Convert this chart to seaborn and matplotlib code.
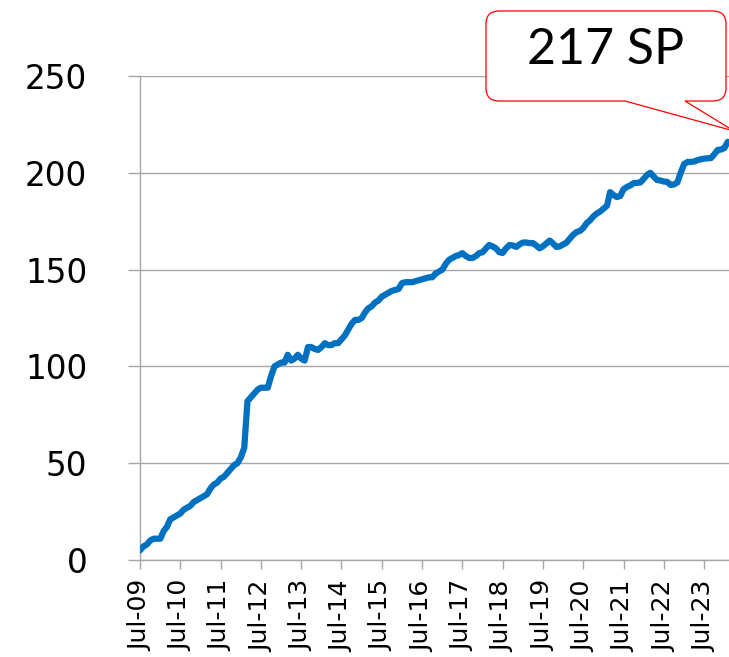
import numpy as np
import pandas as pd
import matplotlib
matplotlib.use("Agg")
import matplotlib.pyplot as plt
import matplotlib.dates as mdates
from matplotlib.path import Path
from matplotlib.patches import PathPatch
from matplotlib.transforms import Affine2D
import seaborn as sns

# ---- data ----
start_month = "2009-07-01"
sp_values = [
    5, 7, 8, 10, 11, 11, 11, 15, 17, 21, 22, 23,
    24, 26, 27, 28, 30, 31, 32, 33, 34, 37, 39, 40,
    42, 43, 45, 47, 49, 50, 53, 58, 82, 84, 86, 88,
    89, 89, 89, 95, 100, 101, 102, 102, 106, 103, 104, 106,
    104, 103, 110, 110, 109, 108.5, 110, 112, 111, 111, 112, 112,
    114, 116, 119, 122, 124, 124, 125, 128, 130, 131, 133, 134,
    136, 137, 138, 139, 139.5, 140, 143, 143.5, 143.5, 143.5, 144, 144.5,
    145, 145.5, 146, 146, 148, 149, 150, 153, 155, 156, 157, 157.5,
    158.5, 157, 156, 156, 157, 158.5, 159, 161, 162.7, 162, 161, 159,
    158.6, 161, 162.7, 162.5, 161.7, 163, 164, 164, 163.7, 163.7, 162.5, 161,
    162, 163.5, 165, 163.5, 161.7, 162, 163, 164, 166, 168, 169.4, 170,
    171.5, 174, 175.5, 177.5, 179, 180, 181.5, 183, 190, 188.5, 187.5, 188,
    191.5, 192.7, 193.5, 194.7, 194.8, 195, 197, 199, 200, 198, 196.3, 196,
    195.5, 195.3, 193.7, 194, 195, 200, 204.5, 205.6, 205.6, 205.8, 206.5, 207,
    207.3, 207.5, 207.6, 209.5, 211.8, 212, 212.8, 216,
]
y_ticks = [0, 50, 100, 150, 200, 250]
callout_text = "217 SP"

dates = pd.date_range(start_month, periods=len(sp_values), freq="MS")
df = pd.DataFrame({"date": dates, "sp": sp_values})

# ---- figure ----
sns.set_style("white")
plt.rcParams["font.family"] = ["DejaVu Sans"]
plt.rcParams["text.color"] = "black"
plt.rcParams["xtick.labelcolor"] = "black"
plt.rcParams["ytick.labelcolor"] = "black"

W, H, DPI = 729, 657, 100
fig = plt.figure(figsize=(W / DPI, H / DPI), dpi=DPI)
ax = fig.add_axes([140 / W, 1 - 560 / H, (729 - 140) / W, (560 - 76) / H])

grid_c = "#A6A6A6"
sns.lineplot(data=df, x="date", y="sp", ax=ax, color="#0070C0",
             linewidth=4.5, zorder=3)

ax.set_ylim(0, 250)
ax.set_yticks(y_ticks)
ax.set_xlim(pd.Timestamp("2009-07-01"), pd.Timestamp("2024-02-12"))
ax.xaxis.set_major_locator(mdates.MonthLocator(bymonth=7))
ax.xaxis.set_major_formatter(mdates.DateFormatter("%b-%y"))

ax.grid(axis="y", color=grid_c, linewidth=1.0, zorder=1)
ax.grid(axis="x", visible=False)
for side in ["top", "right"]:
    ax.spines[side].set_visible(False)
for side in ["left", "bottom"]:
    ax.spines[side].set_color(grid_c)
    ax.spines[side].set_linewidth(1.0)

ax.tick_params(axis="y", which="major", length=9, width=1.0, color=grid_c,
               labelsize=23.5, pad=29, left=True, labelcolor="black")
ax.tick_params(axis="x", which="major", length=6.5, width=1.0, color=grid_c,
               labelsize=18, pad=8, bottom=True, labelrotation=90,
               labelcolor="black")
for lbl in ax.get_xticklabels():
    lbl.set_ha("center")
    lbl.set_va("top")
ax.set_xlabel("")
ax.set_ylabel("")
legend = ax.get_legend()
if legend:
    legend.remove()

# ---- callout (pixel coordinates, y downward) ----
px = Affine2D().scale(1 / DPI, -1 / DPI).translate(0, H / DPI) + fig.dpi_scale_trans
L, R, T, B, r = 486, 726, 11, 101, 13
x1, x2, tip = 625, 685, (734, 131)
verts = [
    (L + r, T), (R - r, T), (R, T), (R, T + r), (R, B - r), (R, B), (R - r, B),
    (x2, B), tip, (x1, B), (L + r, B), (L, B), (L, B - r), (L, T + r), (L, T),
    (L + r, T), (L + r, T),
]
codes = [
    Path.MOVETO, Path.LINETO, Path.CURVE3, Path.CURVE3, Path.LINETO, Path.CURVE3,
    Path.CURVE3, Path.LINETO, Path.LINETO, Path.LINETO, Path.LINETO, Path.CURVE3,
    Path.CURVE3, Path.LINETO, Path.CURVE3, Path.CURVE3, Path.CLOSEPOLY,
]
patch = PathPatch(Path(verts, codes), facecolor="white", edgecolor="#FF0000",
                  linewidth=0.9, transform=px, zorder=10, clip_on=False)
fig.add_artist(patch)
fig.text(606 / W, 1 - 50 / H, callout_text, fontsize=36, family=["Lato", "DejaVu Sans"],
         ha="center", va="center", color="black", zorder=11)

fig.savefig("out.png", dpi=DPI)
